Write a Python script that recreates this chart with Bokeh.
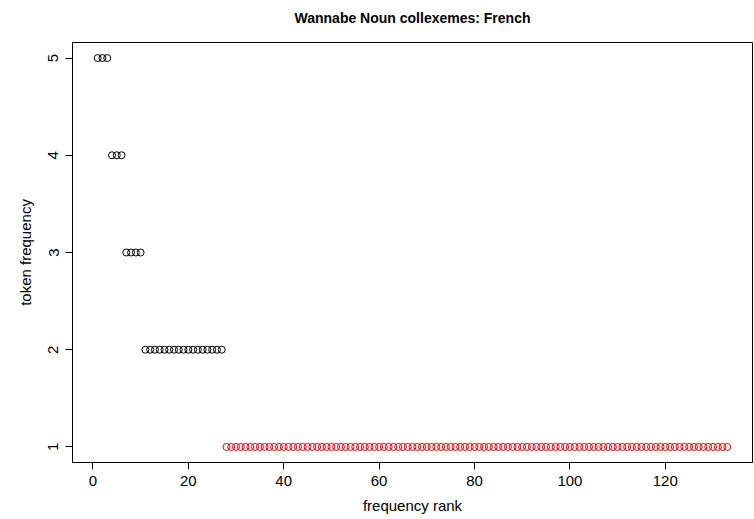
from bokeh.plotting import figure
from bokeh.models import ColumnDataSource, FixedTicker, Range1d, Title
from bokeh.embed import file_html
from bokeh.resources import INLINE

# token frequency per collexeme, in rank order
freq_values = [5, 4, 3, 2, 1]
freq_counts = [3, 3, 4, 17, 106]
token_freq = []
for v, c in zip(freq_values, freq_counts):
    token_freq += [v] * c
ranks = list(range(1, len(token_freq) + 1))
colors = ["red" if f == 1 else "black" for f in token_freq]

x_ticks = [0, 20, 40, 60, 80, 100, 120]
y_ticks = [1, 2, 3, 4, 5]
title_text = "Wannabe Noun collexemes: French"

src = ColumnDataSource(dict(x=ranks, y=token_freq, c=colors))

FONT = "Liberation Sans"

p = figure(width=754, height=519, output_backend="svg", toolbar_location=None,
           x_range=Range1d(-4.28, 138.28), y_range=Range1d(0.84, 5.16),
           min_border_left=72, min_border_right=2, min_border_top=42, min_border_bottom=57)

p.scatter("x", "y", source=src, size=7, fill_color=None, line_color="c", line_width=1)

# spacer panel between the title and the frame
p.add_layout(Title(text=" ", text_font_size="13px", standoff=0), "above")
p.add_layout(Title(text=title_text, align="center", text_font=FONT, text_font_size="14px",
                   text_font_style="bold", text_color="black", standoff=0), "above")

p.outline_line_color = "black"
p.outline_line_width = 1
p.outline_line_alpha = 1
p.xgrid.visible = False
p.ygrid.visible = False

for ax in (p.xaxis[0], p.yaxis[0]):
    ax.minor_tick_line_color = None
    ax.major_tick_in = 0
    ax.major_tick_out = 7
    ax.major_tick_line_color = "black"
    ax.axis_line_color = "black"
    ax.major_label_text_font = FONT
    ax.major_label_text_font_size = "15px"
    ax.major_label_text_color = "black"
    ax.axis_label_text_font = FONT
    ax.axis_label_text_font_size = "15px"
    ax.axis_label_text_font_style = "normal"
    ax.axis_label_text_color = "black"

p.xaxis[0].ticker = FixedTicker(ticks=x_ticks)
p.yaxis[0].ticker = FixedTicker(ticks=y_ticks)
p.xaxis[0].axis_label = "frequency rank"
p.yaxis[0].axis_label = "token frequency"
p.yaxis[0].major_label_orientation = "vertical"
p.xaxis[0].major_label_standoff = 6
p.yaxis[0].major_label_standoff = 7
p.xaxis[0].axis_label_standoff = 8
p.yaxis[0].axis_label_standoff = 12

open("out.html", "w").write(file_html(p, INLINE))
